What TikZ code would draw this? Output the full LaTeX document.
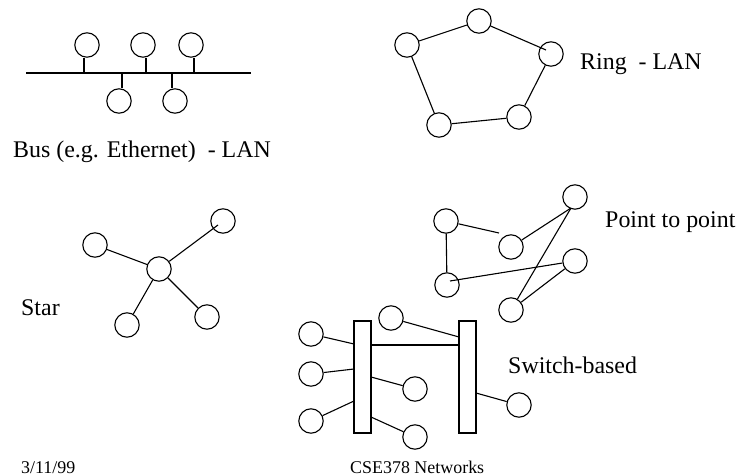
\documentclass[tikz,border=0pt]{standalone}
\usepackage{fontspec}
\setmainfont{Liberation Serif}
\begin{document}
\begin{tikzpicture}[x=1bp,y=-1bp,
  host/.style={draw, circle, minimum size=24.4bp, inner sep=0pt, line width=1.1bp},
  link/.style={line width=1.1bp},
  switchbox/.style={draw, rectangle, minimum width=17bp, minimum height=112bp, inner sep=0pt, line width=1.1bp},
  lbl/.style={font=\fontsize{24}{28}\selectfont, anchor=base west, inner sep=0pt},
  foot/.style={font=\fontsize{18}{22}\selectfont, anchor=base west, inner sep=0pt}]
\useasboundingbox (0,0) rectangle (736,476);
\fill[white] (0,0) rectangle (736,476);

% ---------- Bus ----------
\coordinate (busL) at (26,73);
\coordinate (busR) at (251,73);
\draw[link] (busL) -- (busR);
\node[host] (b1) at (87,45) {};
\node[host] (b2) at (143,45) {};
\node[host] (b3) at (191,45) {};
\node[host] (b4) at (119,101) {};
\node[host] (b5) at (175,101) {};
\coordinate (s1) at (84,73);
\coordinate (s2) at (146,73);
\coordinate (s3) at (194,73);
\coordinate (s4) at (122,73);
\coordinate (s5) at (172,73);
\draw[link] (s1) -- (s1 |- b1.south);
\draw[link] (s2) -- (s2 |- b2.south);
\draw[link] (s3) -- (s3 |- b3.south);
\draw[link] (s4) -- (s4 |- b4.north);
\draw[link] (s5) -- (s5 |- b5.north);
\node[lbl] (buslbl) at (13,158) {Bus (e.g. Ethernet)\ \ - LAN};

% ---------- Ring ----------
\node[host] (r1) at (407,45) {};
\node[host] (r2) at (479,21) {};
\node[host] (r3) at (551,54) {};
\node[host] (r4) at (519,117) {};
\node[host] (r5) at (439,125) {};
\coordinate (r3in) at (546,50);
\draw[link] (r1) -- (r2);
\draw[link] (r2) -- (r3in);
\draw[link] (r3) -- (r4);
\draw[link] (r4) -- (r5);
\draw[link] (r5) -- (r1);
\node[lbl] (ringlbl) at (580,70) {Ring\ \ - LAN};

% ---------- Star ----------
\node[host] (hub) at (159,269) {};
\node[host] (st1) at (223,221) {};
\node[host] (st2) at (95,245) {};
\node[host] (st3) at (127,325) {};
\node[host] (st4) at (207,317) {};
\coordinate (st1in) at (218,225);
\draw[link] (hub) -- (st1in);
\draw[link] (hub) -- (st2);
\draw[link] (hub) -- (st3);
\draw[link] (hub) -- (st4);
\node[lbl] (starlbl) at (21,316) {Star};

% ---------- Point to point ----------
\node[host] (pa) at (446,221) {};
\node[host] (pb) at (511,247) {};
\node[host] (pc) at (575,197) {};
\node[host] (pd) at (447,285) {};
\node[host] (pe) at (575,261) {};
\node[host] (pf) at (511,310) {};
\coordinate (pab) at (499,233);
\coordinate (pcin) at (571,208);
\coordinate (pdin) at (450,281);
\draw[link] (pa) -- (pab);
\draw[link] (pb) -- (pcin);
\draw[link] (pa) -- (pd);
\draw[link] (pdin) -- (pe);
\draw[link] (pcin) -- (pf);
\draw[link] (pe) -- (pf);
\node[lbl] (p2plbl) at (605,228) {Point to point};

% ---------- Switch-based ----------
\node[switchbox] (swl) at (362.5,377) {};
\node[switchbox] (swr) at (467.5,377) {};
\node[host] (w1) at (311,334) {};
\node[host] (w2) at (311,374) {};
\node[host] (w3) at (311,421) {};
\node[host] (w4) at (391,318) {};
\node[host] (w5) at (415,389) {};
\node[host] (w6) at (415,437) {};
\node[host] (w7) at (519,405) {};
\coordinate (a1) at (354,344);
\coordinate (a2) at (354,369);
\coordinate (a3) at (354,401);
\coordinate (a4) at (371,377);
\coordinate (a5) at (371,417);
\coordinate (a6) at (371,345);
\coordinate (a7) at (459,345);
\coordinate (a8) at (459,337);
\coordinate (a9) at (476,393);
\draw[link] (w1) -- (a1);
\draw[link] (w2) -- (a2);
\draw[link] (w3) -- (a3);
\draw[link] (a4) -- (w5);
\draw[link] (a5) -- (w6);
\draw[link] (a6) -- (a7);
\draw[link] (w4) -- (a8);
\draw[link] (a9) -- (w7);
\node[lbl] (swlbl) at (508,373) {Switch-based};

% ---------- Footer ----------
\node[foot] (date) at (21,473) {3/11/99};
\node[foot] (course) at (350,473) {CSE378 Networks};
\end{tikzpicture}
\end{document}
